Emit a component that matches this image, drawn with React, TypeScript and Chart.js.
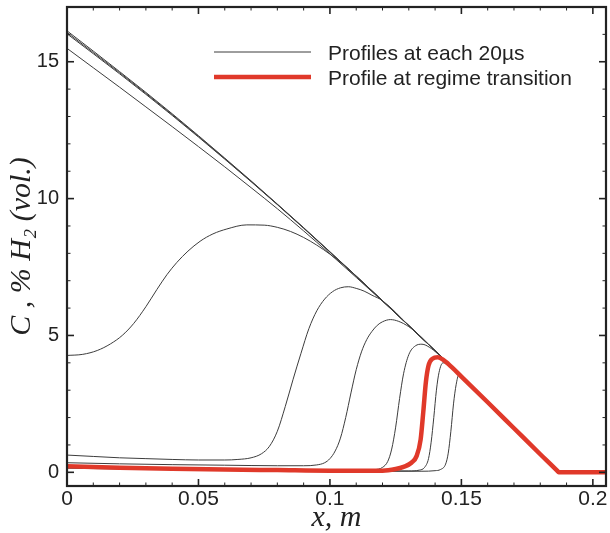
import { useEffect, useRef } from 'react';
import { Chart, registerables } from 'chart.js';

Chart.register(...registerables);

type Pt = [number, number];

const xTickValues = [0, 0.05, 0.1, 0.15, 0.2];
const yTickValues = [0, 5, 10, 15];
const xMinorStep = 0.01;
const yMinorStep = 1;
const legendLabels = ['Profiles at each 20µs', 'Profile at regime transition'];
const xTitle = 'x, m';
const yTitle = 'C , % H₂ (vol.)';

// common linear tail (front of initial gradient) shared by all profiles
const sharedTail: Pt[] = [[0.15, 3.5], [0.16, 2.56], [0.17, 1.61], [0.18, 0.66], [0.1865, 0.05], [0.187, 0], [0.1875, 0], [0.205, 0]];

const profileU1: Pt[] = [[0, 16.13], [0.01, 15.39], [0.02, 14.64], [0.03, 13.88], [0.04, 13.1], [0.05, 12.3], [0.06, 11.48], [0.07, 10.65], [0.08, 9.8], [0.09, 8.94], [0.1, 8.06], [0.11, 7.17], [0.12, 6.27], [0.13, 5.36], [0.14, 4.44], [0.145, 3.97]];
const profileU2: Pt[] = [[0, 16.07], [0.02, 14.6], [0.04, 13.07], [0.06, 11.46], [0.08, 9.79], [0.1, 8.05], [0.12, 6.27], [0.13, 5.36], [0.14, 4.44], [0.145, 3.97]];
const profileU3: Pt[] = [[0, 16.02], [0.02, 14.56], [0.04, 13.04], [0.06, 11.44], [0.08, 9.78], [0.1, 8.04], [0.12, 6.26], [0.13, 5.36], [0.14, 4.44], [0.145, 3.97]];
const profileU4: Pt[] = [[0, 15.49], [0.01, 14.78], [0.02, 14.07], [0.03, 13.35], [0.04, 12.63], [0.05, 11.9], [0.06, 11.16], [0.07, 10.4], [0.08, 9.63], [0.09, 8.82], [0.1, 7.98], [0.11, 7.12], [0.12, 6.25], [0.13, 5.36], [0.14, 4.44], [0.145, 3.97]];
const profileB: Pt[] = [[0, 4.27], [0.006, 4.31], [0.0115, 4.45], [0.0165, 4.69], [0.021, 5.0], [0.0253, 5.43], [0.03, 6.05], [0.0342, 6.68], [0.038, 7.22], [0.0418, 7.67], [0.046, 8.08], [0.0506, 8.44], [0.0555, 8.71], [0.0608, 8.89], [0.0684, 9.04], [0.075, 9.03], [0.08, 8.95], [0.085, 8.8], [0.09, 8.58], [0.095, 8.3], [0.1, 7.97], [0.105, 7.6], [0.11, 7.17], [0.12, 6.27], [0.13, 5.36], [0.14, 4.44], [0.145, 3.97]];
const profileC: Pt[] = [[0, 0.63], [0.01, 0.58], [0.02, 0.53], [0.03, 0.5], [0.04, 0.47], [0.05, 0.45], [0.06, 0.45], [0.065, 0.47], [0.07, 0.53], [0.074, 0.68], [0.077, 0.95], [0.08, 1.5], [0.083, 2.4], [0.086, 3.4], [0.089, 4.35], [0.092, 5.25], [0.095, 5.9], [0.098, 6.33], [0.101, 6.6], [0.104, 6.74], [0.107, 6.78], [0.11, 6.72], [0.113, 6.62], [0.116, 6.47], [0.12, 6.27], [0.13, 5.36], [0.14, 4.44], [0.145, 3.97]];
const profileD: Pt[] = [[0, 0.35], [0.02, 0.31], [0.04, 0.28], [0.06, 0.26], [0.08, 0.24], [0.09, 0.24], [0.095, 0.27], [0.098, 0.35], [0.1, 0.5], [0.102, 0.78], [0.104, 1.25], [0.106, 2.0], [0.108, 2.9], [0.11, 3.75], [0.112, 4.4], [0.114, 4.85], [0.116, 5.15], [0.118, 5.37], [0.12, 5.5], [0.123, 5.58], [0.126, 5.52], [0.13, 5.32], [0.135, 4.92], [0.14, 4.44], [0.145, 3.97]];
const profileE: Pt[] = [[0, 0.22], [0.03, 0.17], [0.06, 0.13], [0.09, 0.1], [0.11, 0.08], [0.117, 0.1], [0.12, 0.18], [0.122, 0.4], [0.1235, 0.85], [0.125, 1.65], [0.1265, 2.7], [0.128, 3.6], [0.13, 4.3], [0.1325, 4.62], [0.135, 4.68], [0.138, 4.56], [0.141, 4.33], [0.145, 3.97]];
const profileG: Pt[] = [[0, 0.18], [0.03, 0.14], [0.06, 0.1], [0.09, 0.07], [0.12, 0.05], [0.13, 0.05], [0.134, 0.08], [0.136, 0.18], [0.1375, 0.5], [0.1385, 1.1], [0.1395, 2.0], [0.1405, 3.0], [0.1415, 3.65], [0.143, 4.0], [0.145, 3.96]];
const profileH: Pt[] = [[0, 0.15], [0.03, 0.11], [0.06, 0.08], [0.09, 0.06], [0.12, 0.04], [0.135, 0.04], [0.14, 0.06], [0.142, 0.1], [0.144, 0.3], [0.145, 0.7], [0.146, 1.5], [0.147, 2.5], [0.148, 3.2], [0.149, 3.55]];
const profileTransition: Pt[] = [[0, 0.22], [0.02, 0.17], [0.04, 0.13], [0.06, 0.1], [0.08, 0.08], [0.1, 0.06], [0.12, 0.06], [0.125, 0.12], [0.128, 0.2], [0.131, 0.35], [0.133, 0.6], [0.1345, 1.2], [0.1355, 2.2], [0.1365, 3.3], [0.1375, 3.9], [0.139, 4.15], [0.141, 4.2], [0.143, 4.12], [0.145, 3.96]];

const thinProfiles: Pt[][] = [profileU1, profileU2, profileU3, profileU4, profileB, profileC, profileD, profileE, profileG, profileH];

const SANS = '"Liberation Sans", Arial, Helvetica, sans-serif';
const SERIF = '"Liberation Serif", "Times New Roman", serif';
const RED = '#e0392a';
const THIN = '#3c3c3c';
const AXIS = '#222222';

const toXY = (pts: Pt[]) => [...pts, ...sharedTail].map(([x, y]) => ({ x, y }));

const frameAndLegend = {
  id: 'frameAndLegend',
  afterDatasetsDraw(chart: any) {
    const { ctx, chartArea: a, scales } = chart;
    const xs = scales.x;
    const ys = scales.y;
    ctx.save();
    ctx.strokeStyle = AXIS;
    ctx.lineWidth = 1;
    const seg = (x1: number, y1: number, x2: number, y2: number) => {
      ctx.beginPath();
      ctx.moveTo(x1, y1);
      ctx.lineTo(x2, y2);
      ctx.stroke();
    };
    for (let i = 1; i * xMinorStep <= xs.max + 1e-9; i++) {
      const v = i * xMinorStep;
      const major = xTickValues.some((t) => Math.abs(t - v) < 1e-9);
      const len = major ? 7 : 3.5;
      const px = xs.getPixelForValue(v);
      ctx.lineWidth = major ? 1.6 : 1;
      seg(px, a.bottom, px, a.bottom - len);
      seg(px, a.top, px, a.top + len);
    }
    for (let v = 0; v <= ys.max; v += yMinorStep) {
      const major = yTickValues.includes(v);
      const len = major ? 7 : 3.5;
      const py = ys.getPixelForValue(v);
      ctx.lineWidth = major ? 1.6 : 1;
      seg(a.left, py, a.left + len, py);
      seg(a.right, py, a.right - len, py);
    }
    ctx.lineWidth = 2.2;
    ctx.strokeRect(a.left, a.top, a.right - a.left, a.bottom - a.top);

    const lx1 = a.left + 147;
    const lx2 = a.left + 244;
    const tx = a.left + 261;
    const row1 = a.top + 45;
    const row2 = a.top + 70;
    ctx.strokeStyle = THIN;
    ctx.lineWidth = 1;
    seg(lx1, row1, lx2, row1);
    ctx.strokeStyle = RED;
    ctx.lineWidth = 4.5;
    seg(lx1, row2, lx2, row2);
    ctx.fillStyle = AXIS;
    ctx.font = `21px ${SANS}`;
    ctx.textBaseline = 'alphabetic';
    ctx.textAlign = 'left';
    ctx.fillText(legendLabels[0], tx, row1 + 7.5);
    ctx.fillText(legendLabels[1], tx, row2 + 7.5);
    ctx.restore();
  },
};

export default function App() {
  const ref = useRef<HTMLCanvasElement>(null);
  useEffect(() => {
    if (!ref.current) return;
    const datasets: any[] = [
      {
        label: legendLabels[1],
        data: toXY(profileTransition),
        borderColor: RED,
        borderWidth: 4.5,
        pointRadius: 0,
        cubicInterpolationMode: 'monotone',
        order: 0,
      },
      ...thinProfiles.map((p, i) => ({
        label: i === 0 ? legendLabels[0] : `profile ${i + 1}`,
        data: toXY(p),
        borderColor: THIN,
        borderWidth: 1,
        pointRadius: 0,
        cubicInterpolationMode: 'monotone',
        order: 1,
      })),
    ];
    const chart = new Chart(ref.current, {
      type: 'line',
      data: { datasets },
      options: {
        animation: false,
        responsive: false,
        devicePixelRatio: 1,
        layout: { padding: { left: 0, top: 7, right: 4, bottom: 0 } },
        plugins: { legend: { display: false }, tooltip: { enabled: false } },
        scales: {
          x: {
            type: 'linear',
            min: 0,
            max: 0.205,
            afterBuildTicks: (s: any) => {
              s.ticks = xTickValues.map((v) => ({ value: v }));
            },
            afterFit: (s: any) => {
              s.height = 47;
              s.paddingLeft = 0;
              s.paddingRight = 0;
            },
            grid: { display: false, drawTicks: false },
            border: { display: false },
            ticks: {
              padding: 1,
              color: AXIS,
              font: { family: SANS, size: 21 },
              maxRotation: 0,
              autoSkip: false,
              callback: (v: any) => String(v),
            },
            title: {
              display: true,
              text: xTitle,
              color: AXIS,
              font: { family: SERIF, size: 30, style: 'italic', lineHeight: 1 },
              padding: { top: 0, bottom: 0 },
            },
          },
          y: {
            type: 'linear',
            min: -0.5,
            max: 17,
            afterBuildTicks: (s: any) => {
              s.ticks = yTickValues.map((v) => ({ value: v }));
            },
            afterFit: (s: any) => {
              s.width = 67;
              s.paddingTop = 0;
              s.paddingBottom = 0;
            },
            grid: { display: false, drawTicks: false },
            border: { display: false },
            ticks: {
              padding: 8,
              color: AXIS,
              font: { family: SANS, size: 20 },
              autoSkip: false,
              callback: (v: any) => String(v),
            },
            title: {
              display: true,
              text: yTitle,
              color: AXIS,
              font: { family: SERIF, size: 30, style: 'italic', lineHeight: 1 },
              padding: { top: 7, bottom: 0 },
            },
          },
        },
      },
      plugins: [frameAndLegend],
    } as any);
    return () => chart.destroy();
  }, []);
  return (
    <div style={{ position: 'absolute', left: 0, top: 0, width: 610, height: 533, background: '#fff' }}>
      <canvas ref={ref} width={610} height={533} style={{ display: 'block' }} />
    </div>
  );
}
